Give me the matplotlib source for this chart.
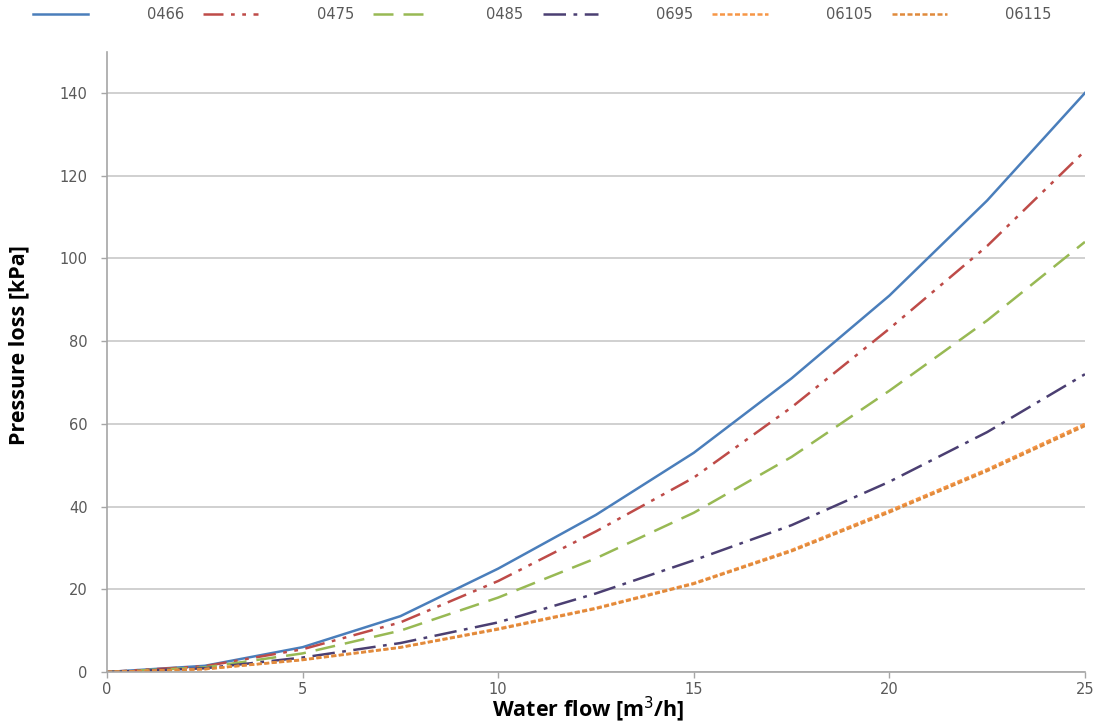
import matplotlib
matplotlib.use("Agg")
import matplotlib.pyplot as plt

flow = [0, 2.5, 5, 7.5, 10, 12.5, 15, 17.5, 20, 22.5, 25]
s0466 = [0, 1.5, 6, 13.5, 25, 38, 53, 71, 91, 114, 140]
s0475 = [0, 1.4, 5.5, 12, 22, 34, 47, 64, 83, 103, 126]
s0485 = [0, 1.1, 4.5, 10, 18, 27.5, 38.5, 52, 68, 85, 104]
s0695 = [0, 0.9, 3.5, 7, 12, 19, 27, 35.5, 46, 58, 72]
s06105 = [0, 0.7, 3, 6, 10.5, 15.5, 21.5, 29.5, 39, 49, 60]
s06115 = [0, 0.7, 2.9, 5.9, 10.3, 15.3, 21.3, 29.2, 38.6, 48.6, 59.5]
labels = ["0466", "0475", "0485", "0695", "06105", "06115"]
yticks = [0, 20, 40, 60, 80, 100, 120, 140]
xticks = [0, 5, 10, 15, 20, 25]

series = [s0466, s0475, s0485, s0695, s06105, s06115]
colors = ["#4a7ebb", "#be4b48", "#98b954", "#4b3f72", "#f79646", "#e08a3c"]
styles = ["-", (0, (8, 3, 1.5, 3, 1.5, 3)), (0, (8, 4)), (0, (9, 3, 1.5, 3)),
          (0, (2, 1)), (0, (2, 1))]

fig = plt.figure(figsize=(11, 7.25), dpi=100)
ax = fig.add_axes([0.0973, 0.0731, 0.889, 0.8557])

for ys, c, ls, lab in zip(series, colors, styles, labels):
    ax.plot(flow, ys, color=c, linestyle=ls, linewidth=1.8, label=lab)

ax.set_xlim(0, 25)
ax.set_ylim(0, 150)
ax.set_xticks(xticks)
ax.set_yticks(yticks)
ax.yaxis.grid(True, color="#c8c8c8", linewidth=1.2)
ax.set_axisbelow(True)
for side in ["top", "right"]:
    ax.spines[side].set_visible(False)
for side in ["left", "bottom"]:
    ax.spines[side].set_color("#a6a6a6")
    ax.spines[side].set_linewidth(1.2)
ax.tick_params(axis="both", colors="#a6a6a6", labelcolor="#595959",
               labelsize=10.5, length=4, width=1)
ax.tick_params(axis="y", pad=10)
ax.tick_params(axis="x", pad=3)

fig.text(0.535, 0.021, "Water flow [m$^3$/h]", fontsize=15.5, fontweight="bold",
         family="Open Sans", fontstretch="normal", ha="center", va="center")
fig.text(0.017, 0.524, "Pressure loss [kPa]", fontsize=15.5, fontweight="bold",
         family="Open Sans", fontstretch="normal", ha="center", va="center",
         rotation=90)

leg = fig.legend(loc="upper left", bbox_to_anchor=(0.018, 1.008), ncol=6,
                 frameon=False, fontsize=10.5, handlelength=3.8,
                 handletextpad=4.0, columnspacing=1.3)
for t in leg.get_texts():
    t.set_color("#595959")

fig.savefig("out.png", dpi=100)
